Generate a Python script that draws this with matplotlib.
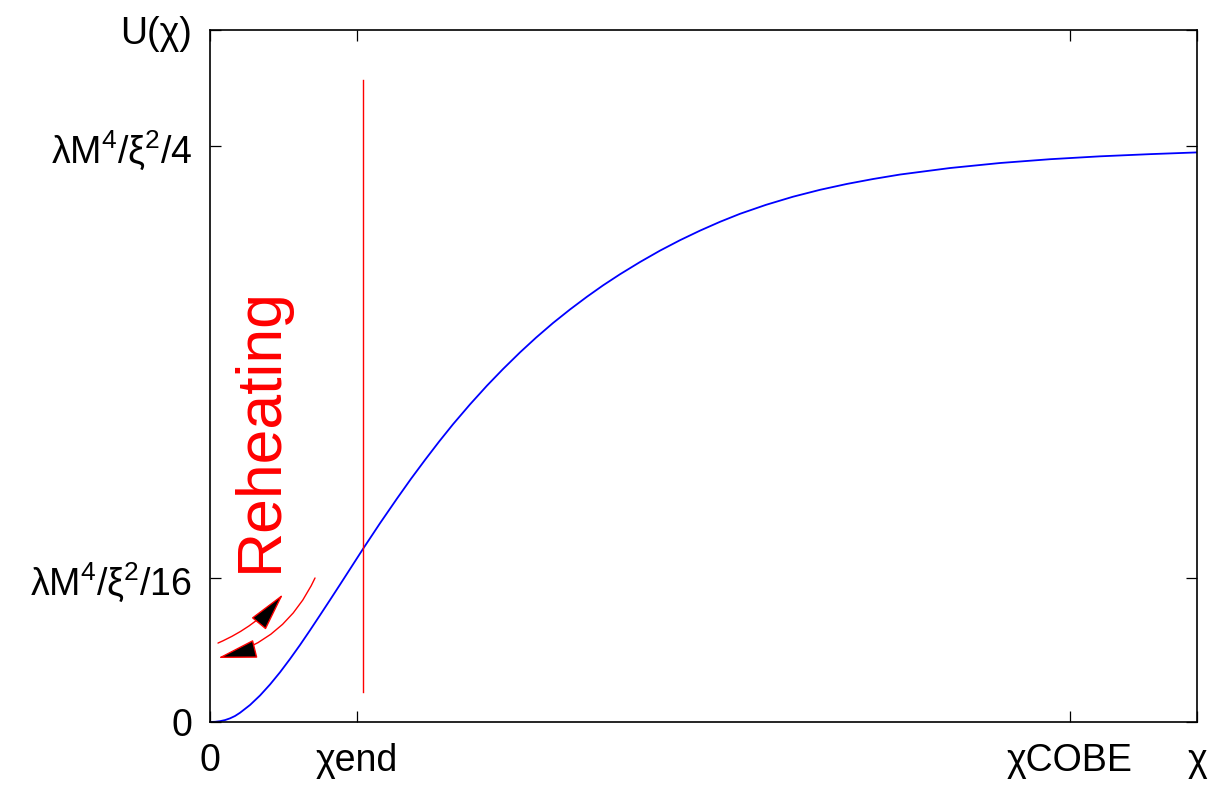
import matplotlib.pyplot as plt

plt.rcParams['font.family'] = ['Liberation Sans', 'DejaVu Sans']
plt.rcParams['mathtext.fontset'] = 'custom'
plt.rcParams['mathtext.rm'] = 'Liberation Sans'
plt.rcParams['mathtext.it'] = 'Liberation Sans:italic'

# potential U(chi), chi in units of chi_end, U in units of lambda M^4/xi^2/4
chi = [0, 0.034, 0.068, 0.102, 0.136, 0.170, 0.204, 0.272, 0.340, 0.408,
       0.476, 0.544, 0.612, 0.680, 0.748, 0.816, 0.884, 0.959, 1.041, 1.156,
       1.272, 1.367, 1.463, 1.558, 1.653, 1.769, 1.884, 1.993, 2.109, 2.218,
       2.333, 2.449, 2.565, 2.673, 2.789, 2.925, 3.061, 3.197, 3.333, 3.469,
       3.605, 3.782, 3.966, 4.150, 4.333, 4.510, 4.694, 5.034, 5.374, 5.714,
       6.054, 6.395, 6.714]
U = [0, 0.0003, 0.0014, 0.0033, 0.0063, 0.0104, 0.0160, 0.0295, 0.0460, 0.0651,
     0.0863, 0.1094, 0.1337, 0.1592, 0.1854, 0.2118, 0.2385, 0.2682, 0.3007, 0.3450,
     0.3880, 0.4222, 0.4552, 0.4868, 0.5170, 0.5516, 0.5840, 0.6128, 0.6418, 0.6674,
     0.6927, 0.7163, 0.7385, 0.7580, 0.7774, 0.7986, 0.8184, 0.8365, 0.8531, 0.8684,
     0.8823, 0.8979, 0.9120, 0.9240, 0.9342, 0.9427, 0.9505, 0.9618, 0.9705, 0.9771,
     0.9821, 0.9859, 0.9889]

chi_end_line = 1.041
end_line_y = [0.052, 1.115]

x_max = 6.714
y_max = 1.2014
x_ticks = [0, 1.0, 5.85, x_max]
x_labels = ['0', 'χend', 'χCOBE', 'χ']
y_ticks = [0, 0.25, 1.0, y_max]
y_labels = ['0', r'λM$^4$/ξ$^2$/16', r'λM$^4$/ξ$^2$/4', 'U(χ)']

# reheating arrows: (start, tip, curvature)
arrow_up = ((0.054, 0.137), (0.497, 0.222), 0.12)
arrow_down = ((0.714, 0.250), (0.054, 0.111), -0.24)

fig = plt.figure(figsize=(12.17, 7.88), dpi=100)
ax = fig.add_axes([0.1726, 0.0838, 0.811, 0.8781])

ax.plot(chi, U, color='#0000ff', lw=1.3)
ax.plot([chi_end_line, chi_end_line], end_line_y, color='#ff0000', lw=1.0)

for start, tip, rad in [arrow_up, arrow_down]:
    ax.annotate('', xy=tip, xytext=start,
                arrowprops=dict(arrowstyle='-|>,head_length=1.25,head_width=0.3',
                                connectionstyle='arc3,rad=%g' % rad,
                                fc='black', ec='#ff0000', lw=1.0,
                                shrinkA=0, shrinkB=0, mutation_scale=20))

ax.text(0.340, 0.507, 'Reheating', color='#ff0000', fontsize=45,
        rotation=90, ha='center', va='center')

ax.set_xlim(0, x_max)
ax.set_ylim(0, y_max)
ax.set_xticks(x_ticks)
ax.set_xticklabels(x_labels)
ax.set_yticks(y_ticks)
ax.set_yticklabels(y_labels)
ax.tick_params(direction='in', length=8, width=0.9, labelsize=27,
               top=True, right=True)
ax.tick_params(axis='x', pad=15)
ax.tick_params(axis='y', pad=13)
for s in ax.spines.values():
    s.set_linewidth(1.2)

fig.savefig('out.png', dpi=100)
